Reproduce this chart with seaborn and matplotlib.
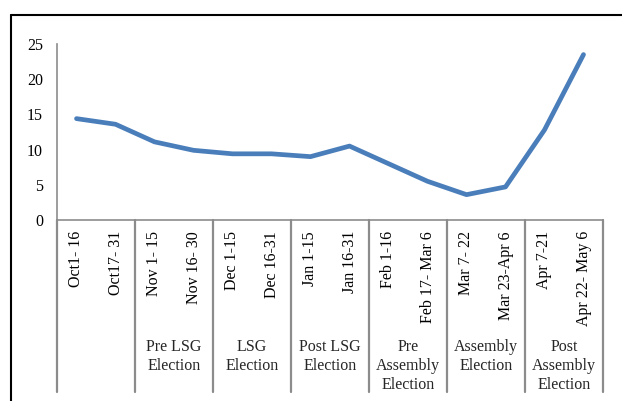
import matplotlib
matplotlib.use("Agg")
import matplotlib.pyplot as plt
from matplotlib.lines import Line2D
import numpy as np
import pandas as pd
import seaborn as sns

periods = ['Oct1- 16', 'Oct17- 31', 'Nov 1- 15', 'Nov 16- 30', 'Dec 1-15', 'Dec 16-31',
           'Jan 1-15', 'Jan 16-31', 'Feb 1-16', 'Feb 17- Mar 6', 'Mar 7- 22', 'Mar 23-Apr 6',
           'Apr 7-21', 'Apr 22- May 6']
values = [14.4, 13.6, 11.1, 9.9, 9.4, 9.4, 9.0, 10.5, 8.0, 5.5, 3.6, 4.7, 12.8, 23.5]
groups = ['', 'Pre LSG\nElection', 'LSG\nElection', 'Post LSG\nElection',
          'Pre\nAssembly\nElection', 'Assembly\nElection', 'Post\nAssembly\nElection']
yticks = [0, 5, 10, 15, 20, 25]

sns.set_style("white")
plt.rcParams['font.family'] = ['Liberation Serif', 'DejaVu Serif']

W, H = 622, 401
fig = plt.figure(figsize=(W / 100, H / 100), dpi=100)
ax = fig.add_axes([57 / W, 1 - 220 / H, (603 - 57) / W, (220 - 44) / H])

df = pd.DataFrame({'pos': np.arange(len(periods)), 'value': values})
sns.lineplot(data=df, x='pos', y='value', ax=ax, color='#4A7EBB', linewidth=3.4,
             sort=False, solid_capstyle='round', solid_joinstyle='round')

grey = '#8C8C8C'
ax.set_xlim(-0.5, len(periods) - 0.5)
ax.set_ylim(0, 25)
ax.set_yticks(yticks)
ax.set_yticklabels([str(t) for t in yticks], fontsize=11.5)
ax.set_xticks(range(len(periods)))
ax.set_xticklabels(periods, rotation=90, fontsize=11.5, va='top', ha='center')
ax.tick_params(axis='both', length=0, colors='black')
ax.tick_params(axis='x', pad=8)
ax.tick_params(axis='y', pad=10)
ax.set_xlabel('')
ax.set_ylabel('')
for s in ['top', 'right']:
    ax.spines[s].set_visible(False)
for s in ['left', 'bottom']:
    ax.spines[s].set_color(grey)
    ax.spines[s].set_linewidth(1.2)

# group separators below the axis and group labels
trans = ax.get_xaxis_transform()
ax_h = (220 - 44) / H
bottom_ax = -(392 - 220) / H / ax_h
for b in np.arange(-0.5, len(periods), 2):
    ax.plot([b, b], [0, bottom_ax], transform=trans, color=grey, lw=1.6, clip_on=False)
label_y = -(339 - 220) / H / ax_h
for i, g in enumerate(groups):
    ax.text(2 * i + 0.5, label_y, g, transform=trans, ha='center', va='top',
            fontsize=11.5, linespacing=1.25)

# outer chart frame (cut off at right and bottom)
fig.add_artist(Line2D([10.5 / W, 1], [1 - 14.5 / H] * 2, color='black', lw=1.5,
                      transform=fig.transFigure))
fig.add_artist(Line2D([10.5 / W] * 2, [1 - 14.5 / H, 0], color='black', lw=1.5,
                      transform=fig.transFigure))

fig.savefig('out.png', dpi=100)
